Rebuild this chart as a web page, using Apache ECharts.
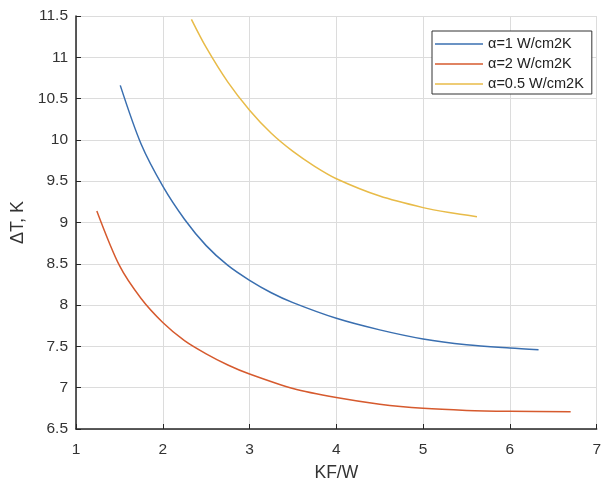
<!DOCTYPE html>
<html>
<head>
<meta charset="utf-8">
<script src="https://cdn.jsdelivr.net/npm/echarts@6/dist/echarts.min.js"></script>
<style>
  html, body { margin: 0; padding: 0; background: #fff; }
  #chart { width: 604px; height: 487px; }
</style>
</head>
<body>
<div id="chart"></div>
<script>
// Temperature difference vs. KF/W for three heat-transfer coefficients
const seriesNames = ['α=1 W/cm2K', 'α=2 W/cm2K', 'α=0.5 W/cm2K'];

const xAlpha1 = [1.51, 1.75, 2.0, 2.25, 2.5, 2.75, 3.0, 3.25, 3.5, 4.0, 4.5, 5.0, 5.5, 6.0, 6.33];
const yAlpha1 = [10.66, 9.95, 9.44, 9.04, 8.72, 8.48, 8.30, 8.15, 8.03, 7.84, 7.70, 7.59, 7.52, 7.48, 7.46];

const xAlpha2 = [1.24, 1.5, 1.75, 2.0, 2.25, 2.5, 2.75, 3.0, 3.5, 4.0, 4.5, 5.0, 5.5, 6.0, 6.7];
const yAlpha2 = [9.14, 8.48, 8.08, 7.79, 7.57, 7.41, 7.275, 7.165, 6.99, 6.88, 6.80, 6.75, 6.725, 6.715, 6.71];

const xAlpha05 = [2.33, 2.5, 2.75, 3.0, 3.25, 3.5, 3.75, 4.0, 4.5, 5.0, 5.3, 5.62];
const yAlpha05 = [11.46, 11.12, 10.70, 10.36, 10.08, 9.86, 9.68, 9.53, 9.32, 9.18, 9.12, 9.07];

const xTicks = { min: 1, max: 7, step: 1 };
const yTicks = { min: 6.5, max: 11.5, step: 0.5 };

const colors = ['#3a6fb0', '#d65a2e', '#e8bb48'];

function pairs(xs, ys) {
  return xs.map((x, i) => [x, ys[i]]);
}

const font = 'Liberation Sans, Arial, sans-serif';
const chart = echarts.init(document.getElementById('chart'), null, { renderer: 'canvas' });

chart.setOption({
  animation: false,
  color: colors,
  grid: { left: 76, right: 2, top: 16, bottom: 51, containLabel: false },
  legend: {
    orient: 'vertical',
    left: 432,
    top: 31,
    padding: [5, 8, 2, 3],
    itemGap: 4,
    itemWidth: 48,
    itemHeight: 1.5,
    icon: 'rect',
    borderColor: '#333',
    borderWidth: 1,
    backgroundColor: '#fff',
    textStyle: { fontFamily: font, fontSize: 14.5, color: '#222', lineHeight: 16 },
    data: seriesNames
  },
  xAxis: {
    type: 'value',
    min: xTicks.min,
    max: xTicks.max,
    interval: xTicks.step,
    name: 'KF/W',
    nameLocation: 'middle',
    nameGap: 35,
    nameTextStyle: { fontFamily: font, fontSize: 17.5, color: '#333' },
    axisLine: { show: true, lineStyle: { color: '#262626', width: 1.5 } },
    axisTick: { show: true, inside: true, length: 5, lineStyle: { color: '#262626' } },
    axisLabel: { fontFamily: font, fontSize: 15.5, color: '#333', margin: 13 },
    splitLine: { show: true, lineStyle: { color: '#dcdcdc', width: 1 } }
  },
  yAxis: {
    type: 'value',
    min: yTicks.min,
    max: yTicks.max,
    interval: yTicks.step,
    name: 'ΔT, K',
    nameLocation: 'middle',
    nameGap: 45,
    nameTextStyle: { fontFamily: font, fontSize: 18, color: '#333' },
    axisLine: { show: true, lineStyle: { color: '#262626', width: 1.5 } },
    axisTick: { show: true, inside: true, length: 5, lineStyle: { color: '#262626' } },
    axisLabel: { fontFamily: font, fontSize: 15.5, color: '#333', margin: 8 },
    splitLine: { show: true, lineStyle: { color: '#dcdcdc', width: 1 } }
  },
  series: [
    { name: seriesNames[0], type: 'line', data: pairs(xAlpha1, yAlpha1) },
    { name: seriesNames[1], type: 'line', data: pairs(xAlpha2, yAlpha2) },
    { name: seriesNames[2], type: 'line', data: pairs(xAlpha05, yAlpha05) }
  ].map((s, i) => Object.assign(s, {
    smooth: 0.3,
    showSymbol: false,
    symbol: 'none',
    lineStyle: { color: colors[i], width: 1.5 },
    itemStyle: { color: colors[i] },
    z: 3
  }))
});
</script>
</body>
</html>
